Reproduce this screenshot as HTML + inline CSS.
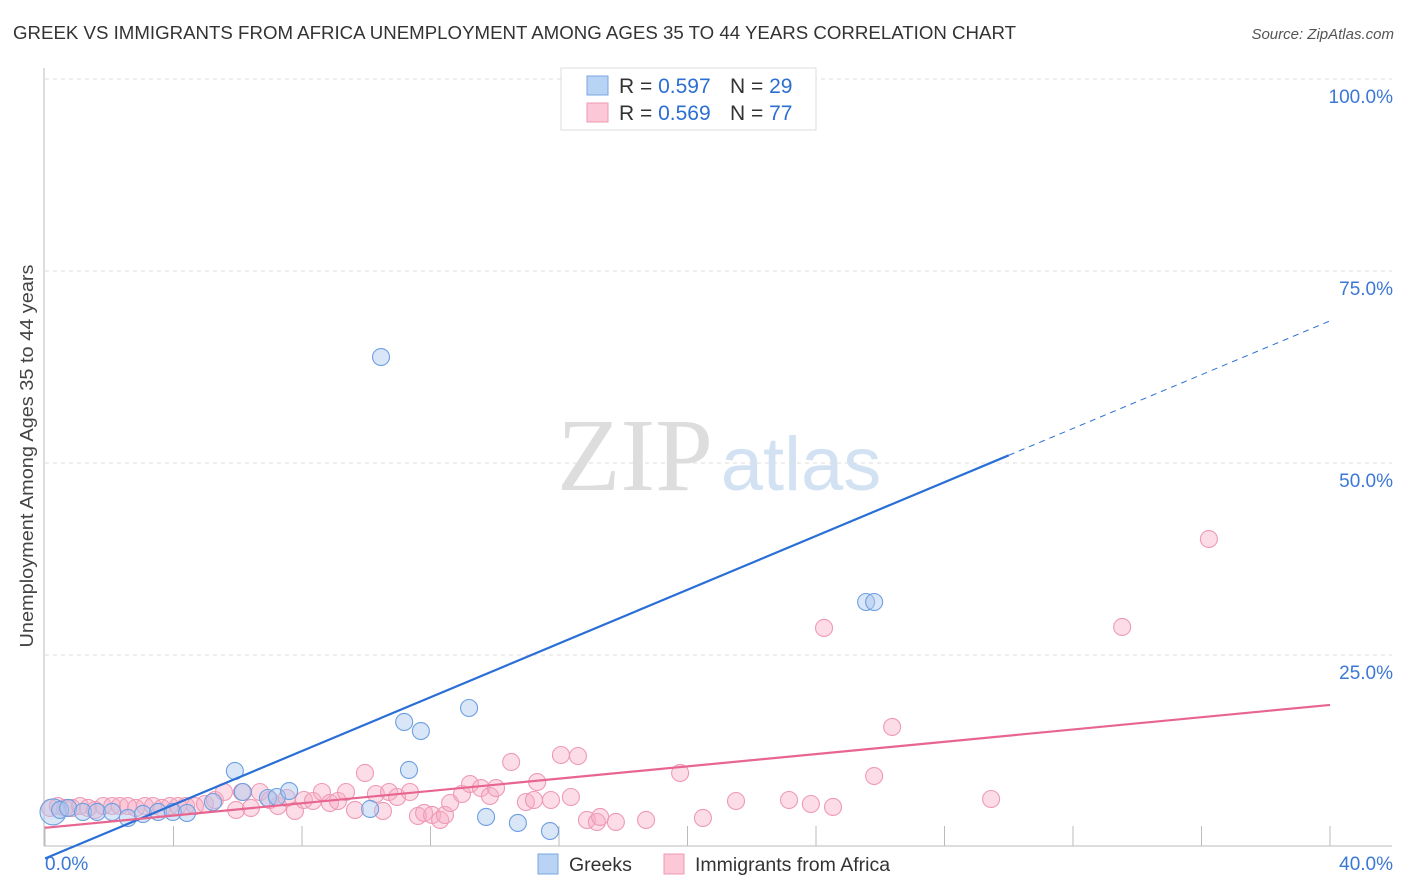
<!DOCTYPE html>
<html><head><meta charset="utf-8"><style>
body{margin:0;background:#fff;font-family:"Liberation Sans",sans-serif}
svg{display:block}
</style></head><body>
<svg id="chart" width="1406" height="892" xmlns="http://www.w3.org/2000/svg">
<text x="13" y="39" font-size="18" fill="#333" textLength="1003" lengthAdjust="spacingAndGlyphs">GREEK VS IMMIGRANTS FROM AFRICA UNEMPLOYMENT AMONG AGES 35 TO 44 YEARS CORRELATION CHART</text>
<text x="1394" y="39" font-size="15" fill="#555" text-anchor="end" font-style="italic">Source: ZipAtlas.com</text>
<text transform="translate(33,456) rotate(-90)" font-size="18" fill="#444" text-anchor="middle" textLength="383" lengthAdjust="spacingAndGlyphs">Unemployment Among Ages 35 to 44 years</text>
<g>
<text x="635" y="490" font-size="104" fill="#ddd" font-family="Liberation Serif,serif" text-anchor="middle">ZIP</text>
<text x="801" y="490" font-size="76" fill="#d3e2f3" text-anchor="middle">atlas</text>
</g>
<g id="grid"></g><g id="axes"></g><g id="marks"></g>
<g>
<rect x="561" y="68" width="255" height="62" fill="#fff" stroke="#ddd"/>
<rect x="587" y="76" width="21" height="19" fill="#b9d3f5" stroke="#7aa6e0"/>
<rect x="587" y="103" width="21" height="19" fill="#fcc7d6" stroke="#ef9ab3"/>
<text x="619" y="93" font-size="21" fill="#333">R = <tspan fill="#2c6fd1">0.597</tspan></text>
<text x="730" y="93" font-size="21" fill="#333">N = <tspan fill="#2c6fd1">29</tspan></text>
<text x="619" y="120" font-size="21" fill="#333">R = <tspan fill="#2c6fd1">0.569</tspan></text>
<text x="730" y="120" font-size="21" fill="#333">N = <tspan fill="#2c6fd1">77</tspan></text>
</g>
<g>
<rect x="538" y="854" width="20" height="20" fill="#b9d3f5" stroke="#7aa6e0"/>
<text x="569" y="871" font-size="19.5" fill="#333">Greeks</text>
<rect x="664" y="854" width="20" height="20" fill="#fcc7d6" stroke="#ef9ab3"/>
<text x="695" y="871" font-size="19.5" fill="#333">Immigrants from Africa</text>
</g>
</svg>
<script>
const greeksPx=[[53,812],[60,810],[68,808],[83,812],[97,812],[112,812],[128,818],[143,814],[158,812],[173,812],[187,813],[213,802],[235,771],[243,792],[268,798],[277,797],[289,791],[370,809],[381,357],[404,722],[409,770],[421,731],[469,708],[486,817],[518,823],[550,831],[798,79],[866,602],[874,602]];
const africaPx=[[50,808],[58,806],[65,808],[72,808],[80,806],[88,808],[95,810],[103,806],[112,806],[120,806],[128,806],[136,808],[145,806],[153,806],[162,808],[170,806],[178,806],[186,806],[195,806],[205,804],[215,800],[224,792],[236,810],[242,792],[251,808],[260,792],[270,800],[278,806],[287,798],[295,811],[304,800],[313,801],[322,792],[330,803],[338,801],[346,792],[355,810],[365,773],[376,794],[383,811],[389,792],[397,797],[410,792],[418,816],[424,813],[432,815],[440,820],[445,815],[450,803],[462,794],[470,784],[481,788],[490,796],[496,788],[511,762],[526,802],[534,800],[537,782],[551,800],[561,755],[571,797],[578,756],[587,820],[597,822],[600,817],[616,822],[646,820],[680,773],[703,818],[736,801],[789,800],[811,804],[824,628],[833,807],[874,776],[892,727],[991,799],[1122,627],[1209,539]];
const greeksX=greeksPx.map(p=>+((p[0]-45)/1285*40).toFixed(2));
const greeksY=greeksPx.map(p=>+((847-p[1])/768*100).toFixed(2));
const africaX=africaPx.map(p=>+((p[0]-45)/1285*40).toFixed(2));
const africaY=africaPx.map(p=>+((847-p[1])/768*100).toFixed(2));
const yTicks=[25,50,75,100];
const yTickLabels=["25.0%","50.0%","75.0%","100.0%"];
const xTicks=[0,4,8,12,16,20,24,28,32,36,40];
const greeksTrend=[-1.5,51];
const greeksTrendEnd=68.5;
const africaTrend=[2.5,18.5];
const X=v=>45+v/40*1285, Y=v=>847-v/100*768;
const NS="http://www.w3.org/2000/svg";
function mk(t,a,p){const e=document.createElementNS(NS,t);for(const k in a)e.setAttribute(k,a[k]);p.appendChild(e);return e;}
const grid=document.getElementById('grid'),axes=document.getElementById('axes'),marks=document.getElementById('marks');
yTicks.forEach((t,i)=>{
 const l=mk('line',{x1:45,x2:1392,y1:Y(t),y2:Y(t),stroke:'#ddd','stroke-dasharray':'4,4'},grid);
 
 
 const tx=mk('text',{x:1393,y:Y(t)+24,'font-size':19,fill:'#3b78d6','text-anchor':'end'},axes);
 tx.textContent=yTickLabels[i];
 
 
});
const la=mk('line',{x1:44,x2:44,y1:68,y2:846,stroke:'#bbb'},axes);


const ba=mk('line',{x1:44,x2:1392,y1:846,y2:846,stroke:'#bbb'},axes);


xTicks.forEach(t=>{
 const l=mk('line',{x1:X(t),x2:X(t),y1:826,y2:846,stroke:'#bbb'},axes);
 
 
});
const x0=mk('text',{x:45,y:870,'font-size':19,fill:'#3b78d6'},axes);x0.textContent='0.0%';


const x1=mk('text',{x:1393,y:870,'font-size':19,fill:'#3b78d6','text-anchor':'end'},axes);x1.textContent='40.0%';


africaX.forEach((x,i)=>{
 const c=mk('circle',{cx:X(x),cy:Y(africaY[i]),r:8.5,fill:'rgba(248,170,195,0.4)',stroke:'#ee9ab4','stroke-width':1.1},marks);
 
 
});
greeksX.forEach((x,i)=>{
 const c=mk('circle',{cx:X(x),cy:Y(greeksY[i]),r:i==0?13:8.5,fill:'rgba(170,200,240,0.45)',stroke:'#6d9fe0','stroke-width':1.1},marks);
 
 
});
const bl=mk('line',{x1:X(0),y1:Y(greeksTrend[0]),x2:X(30),y2:Y(greeksTrend[1]),stroke:'#2a6fd6','stroke-width':2.2},marks);


const bd=mk('line',{x1:X(30),y1:Y(greeksTrend[1]),x2:X(40),y2:Y(greeksTrendEnd),stroke:'#2a6fd6','stroke-width':1,'stroke-dasharray':'6,5'},marks);


const pl=mk('line',{x1:X(0),y1:Y(africaTrend[0]),x2:X(40),y2:Y(africaTrend[1]),stroke:'#e86590','stroke-width':2.2},marks);


</script>
</body></html>
